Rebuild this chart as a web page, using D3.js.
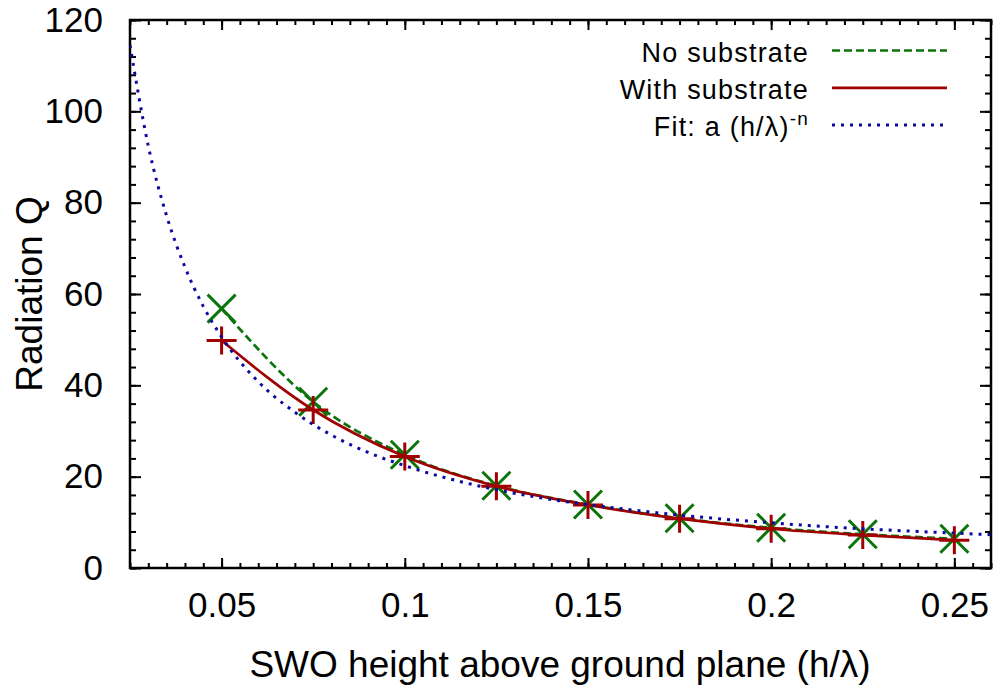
<!DOCTYPE html>
<html>
<head>
<meta charset="utf-8">
<script src="https://cdn.jsdelivr.net/npm/d3@7"></script>
<style>
  body { margin: 0; background: #fff; }
  text { font-family: "Liberation Sans", Arial, sans-serif; fill: #000; }
</style>
</head>
<body>
<div id="chart"></div>
<script>
// Data
let heights = [0.05, 0.075, 0.1, 0.125, 0.15, 0.175, 0.2, 0.225, 0.25];
let noSubstrate = [56.8, 36.4, 24.8, 18.0, 13.9, 10.9, 8.8, 7.4, 6.4];
let withSubstrate = [49.8, 34.6, 24.4, 17.9, 13.8, 10.8, 8.6, 7.2, 6.1];

// points sampled along the dotted fit curve
let fitX = [0.025, 0.03, 0.035, 0.04, 0.045, 0.05, 0.06, 0.07, 0.08, 0.09, 0.1, 0.12, 0.14, 0.16, 0.18, 0.2, 0.22, 0.24, 0.26];
let fitY = [114.5, 92.4, 77.1, 65.9, 57.3, 50.6, 40.8, 34.1, 29.1, 25.3, 22.4, 18.0, 15.0, 12.9, 11.2, 9.9, 8.8, 8.0, 7.3];

let xTicks = [0.05, 0.1, 0.15, 0.2, 0.25];
let yTicks = [0, 20, 40, 60, 80, 100, 120];

let svgWidth = 1001;
let svgHeight = 689;

let margin = { top: 20, right: 10, bottom: 121, left: 130 };
let width = svgWidth - margin.left - margin.right;
let height = svgHeight - margin.top - margin.bottom;

let green = "#0b740b";
let red = "#a00000";
let blue = "#0a0aa0";

let svg = d3.select("#chart")
    .append("svg")
    .attr("width", svgWidth)
    .attr("height", svgHeight);

let chartGroup = svg.append("g")
    .attr("transform", `translate(${margin.left}, ${margin.top})`);

let xScale = d3.scaleLinear().domain([0.025, 0.26]).range([0, width]);
let yScale = d3.scaleLinear().domain([0, 120]).range([height, 0]);

// minor ticks
let xMinor = d3.range(0, 53).map(i => 0.025 + i * 0.005).filter(v => v <= 0.26 + 1e-9);
let yMinor = d3.range(0, 31).map(i => i * 4);

let tickFont = "35px";

// bottom axis
chartGroup.append("g")
    .attr("transform", `translate(0, ${height})`)
    .call(d3.axisBottom(xScale).tickValues(xMinor).tickSize(-5).tickFormat(""));
chartGroup.append("g")
    .attr("transform", `translate(0, ${height})`)
    .call(d3.axisBottom(xScale).tickValues(xTicks).tickSize(-10).tickPadding(24)
        .tickFormat(d => d3.format("")(+d.toFixed(3))))
    .selectAll("text").style("font-size", tickFont);

// top axis
chartGroup.append("g")
    .call(d3.axisTop(xScale).tickValues(xMinor).tickSize(-5).tickFormat(""));
chartGroup.append("g")
    .call(d3.axisTop(xScale).tickValues(xTicks).tickSize(-10).tickFormat(""));

// left axis
chartGroup.append("g")
    .call(d3.axisLeft(yScale).tickValues(yMinor).tickSize(-6).tickFormat(""));
chartGroup.append("g")
    .call(d3.axisLeft(yScale).tickValues(yTicks).tickSize(-11).tickPadding(27))
    .selectAll("text").style("font-size", tickFont);

// right axis
chartGroup.append("g")
    .attr("transform", `translate(${width}, 0)`)
    .call(d3.axisRight(yScale).tickValues(yMinor).tickSize(-6).tickFormat(""));
chartGroup.append("g")
    .attr("transform", `translate(${width}, 0)`)
    .call(d3.axisRight(yScale).tickValues(yTicks).tickSize(-11).tickFormat(""));

chartGroup.selectAll(".domain").remove();
chartGroup.selectAll(".tick line").attr("stroke", "#000").attr("stroke-width", 2);

// frame
chartGroup.append("rect")
    .attr("width", width)
    .attr("height", height)
    .attr("fill", "none")
    .attr("stroke", "#000")
    .attr("stroke-width", 2.5);

let plotArea = chartGroup.append("g");

svg.append("defs").append("clipPath").attr("id", "clip")
    .append("rect").attr("width", width).attr("height", height);

let line = d3.line()
    .x(d => xScale(d[0]))
    .y(d => yScale(d[1]))
    .curve(d3.curveMonotoneX);

// No substrate
plotArea.append("path")
    .datum(heights.map((h, i) => [h, noSubstrate[i]]))
    .attr("d", line)
    .attr("fill", "none")
    .attr("stroke", green)
    .attr("stroke-width", 2.7)
    .attr("stroke-dasharray", "8,4");

plotArea.selectAll(".xmark")
    .data(heights.map((h, i) => [h, noSubstrate[i]]))
    .enter()
    .append("path")
    .attr("class", "xmark")
    .attr("transform", d => `translate(${xScale(d[0])}, ${yScale(d[1])})`)
    .attr("d", "M-14,-14L14,14M-14,14L14,-14")
    .attr("stroke", green)
    .attr("stroke-width", 3);

// With substrate
plotArea.append("path")
    .datum(heights.map((h, i) => [h, withSubstrate[i]]))
    .attr("d", line)
    .attr("fill", "none")
    .attr("stroke", red)
    .attr("stroke-width", 2.7);

plotArea.selectAll(".pmark")
    .data(heights.map((h, i) => [h, withSubstrate[i]]))
    .enter()
    .append("path")
    .attr("class", "pmark")
    .attr("transform", d => `translate(${xScale(d[0])}, ${yScale(d[1])})`)
    .attr("d", "M-15,0L15,0M0,-14L0,14")
    .attr("stroke", red)
    .attr("stroke-width", 3);

// Fit
chartGroup.append("path")
    .datum(fitX.map((h, i) => [h, fitY[i]]))
    .attr("clip-path", "url(#clip)")
    .attr("d", line)
    .attr("fill", "none")
    .attr("stroke", blue)
    .attr("stroke-width", 3)
    .attr("stroke-dasharray", "3,6");

// Legend
let legend = [
    { label: "No substrate", color: green, dash: "8,4", width: 2.7 },
    { label: "With substrate", color: red, dash: null, width: 2.7 },
    { label: "Fit", color: blue, dash: "3,6", width: 3 }
];

let legendGroup = svg.append("g");
legend.forEach((d, i) => {
    let base = 61.5 + i * 37.3;
    let t = legendGroup.append("text")
        .attr("x", 809)
        .attr("y", base)
        .attr("text-anchor", "end")
        .style("font-size", "27px")
        .style("letter-spacing", "1.2px");
    if (d.label === "Fit") {
        t.append("tspan").text("Fit: a (h/λ)");
        t.append("tspan").attr("dy", -11).style("font-size", "19px").text("-n");
    } else {
        t.text(d.label);
    }
    legendGroup.append("line")
        .attr("x1", 832).attr("x2", 947)
        .attr("y1", base - 11).attr("y2", base - 11)
        .attr("stroke", d.color)
        .attr("stroke-width", d.width)
        .attr("stroke-dasharray", d.dash);
});

// Axis labels
svg.append("text")
    .attr("x", 560)
    .attr("y", 677)
    .attr("text-anchor", "middle")
    .style("font-size", "37px")
    .text("SWO height above ground plane (h/λ)");

svg.append("text")
    .attr("transform", `translate(42, ${margin.top + height / 2}) rotate(-90)`)
    .attr("text-anchor", "middle")
    .style("font-size", "37px")
    .text("Radiation Q");
</script>
</body>
</html>
